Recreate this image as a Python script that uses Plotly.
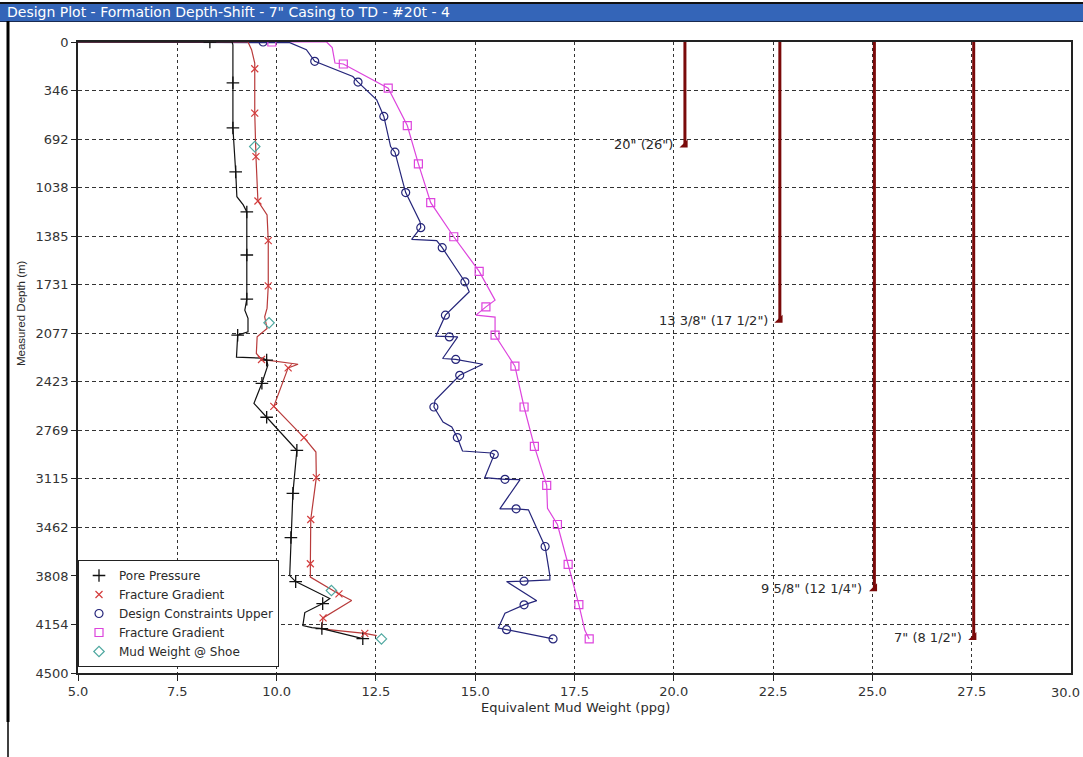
import plotly.graph_objects as go

# ---------------- data (ppg vs measured depth m) ----------------
pore_path_x = [5.0, 8.32, 8.88, 8.90, 8.90, 8.90, 8.97, 9.00, 9.16, 9.25, 9.25, 9.25, 9.20, 9.28, 9.28,
               9.02, 8.99, 9.65, 9.75, 9.78, 9.63, 9.43, 9.75, 10.38, 10.51, 10.41, 10.36, 10.33, 10.48,
               11.34, 11.16, 10.71, 10.66, 10.89, 11.14, 12.17]
pore_path_d = [0, 0, 0, 20, 291, 613, 926, 1103, 1162, 1212, 1519, 1834, 1912, 1971, 2067,
               2091, 2248, 2255, 2269, 2305, 2434, 2577, 2676, 2876, 2912, 3219, 3534, 3805, 3848,
               3969, 4005, 4069, 4162, 4176, 4183, 4255]
pore_mk_x = [8.32, 8.90, 8.90, 8.97, 9.25, 9.25, 9.25, 9.02, 9.75, 9.63, 9.75, 10.51, 10.41, 10.36,
             10.48, 11.16, 11.14, 12.17]
pore_mk_d = [0, 291, 613, 926, 1212, 1519, 1834, 2091, 2269, 2434, 2676, 2912, 3219, 3534,
             3848, 4005, 4183, 4255]

frac_path_x = [5.0, 9.28, 9.37, 9.45, 9.45, 9.45, 9.48, 9.53, 9.76, 9.79, 9.79, 9.76, 9.70, 9.76,
               9.51, 9.49, 9.62, 10.08, 10.54, 10.29, 9.99, 9.93, 10.69, 10.99, 11.00, 10.86, 10.85,
               10.85, 11.57, 11.89, 11.17, 11.13, 12.22, 12.52]
frac_path_d = [0, 0, 55, 150, 191, 507, 817, 1134, 1234, 1417, 1739, 1898, 1960, 2043,
               2103, 2221, 2264, 2281, 2298, 2324, 2543, 2598, 2821, 2924, 3107, 3405, 3721,
               3816, 3936, 3983, 4107, 4186, 4217, 4234]
frac_mk_x = [9.45, 9.45, 9.48, 9.53, 9.79, 9.79, 9.62, 10.29, 9.93, 10.69, 11.00, 10.86, 10.85,
             11.57, 11.17, 12.22]
frac_mk_d = [191, 507, 817, 1134, 1417, 1739, 2264, 2324, 2598, 2821, 3107, 3405, 3721,
             3936, 4107, 4217]

dcu_path_x = [5.0, 9.66, 10.33, 10.75, 10.96, 11.92, 12.05, 12.52, 12.70, 12.87, 12.98, 13.15, 13.25,
              13.61, 13.63, 13.40, 14.03, 14.17, 14.66, 14.74, 14.85, 14.25, 14.01, 14.35, 14.56,
              14.18, 14.51, 15.19, 14.61, 13.99, 13.96, 14.19, 14.41, 14.55, 14.68, 15.41, 15.48,
              15.24, 15.75, 16.13, 15.62, 16.03, 16.34, 16.67, 16.76, 16.88, 16.88, 16.23, 15.79,
              16.55, 16.23, 15.75, 15.58, 15.79, 16.96]
dcu_path_d = [0, 0, 5, 55, 138, 246, 286, 412, 531, 746, 786, 969, 1074,
              1281, 1324, 1407, 1417, 1467, 1674, 1710, 1781, 1948, 2098, 2103, 2103,
              2257, 2264, 2298, 2377, 2555, 2603, 2710, 2746, 2821, 2917, 2931, 2941,
              3107, 3119, 3121, 3329, 3329, 3336, 3543, 3598, 3805, 3836, 3845, 3848,
              3984, 4014, 4074, 4179, 4191, 4257]
dcu_mk_x = [9.66, 10.96, 12.05, 12.70, 12.98, 13.25, 13.63, 14.17, 14.74, 14.25, 14.35, 14.51,
            14.61, 13.96, 14.55, 15.48, 15.75, 16.03, 16.76, 16.23, 16.23, 15.79, 16.96]
dcu_mk_d = [0, 138, 286, 531, 786, 1074, 1324, 1467, 1710, 1948, 2103, 2264,
            2377, 2603, 2821, 2941, 3119, 3329, 3598, 3845, 4014, 4191, 4257]

fg_path_x = [5.0, 9.88, 11.26, 11.40, 11.47, 11.68, 12.81, 13.29, 13.57, 13.88, 14.46, 15.10, 15.50,
             15.27, 15.02, 15.50, 15.50, 16.00, 16.23, 16.49, 16.80, 16.82, 17.07, 17.34, 17.61,
             17.76, 17.87]
fg_path_d = [0, 0, 0, 40, 150, 157, 329, 596, 869, 1146, 1389, 1636, 1841,
             1889, 1948, 1962, 2091, 2312, 2603, 2884, 3162, 3326, 3441, 3726, 4012,
             4196, 4257]
fg_mk_x = [9.88, 11.68, 12.81, 13.29, 13.57, 13.88, 14.46, 15.10, 15.27, 15.50, 16.00, 16.23,
           16.49, 16.80, 17.07, 17.34, 17.61, 17.87]
fg_mk_d = [0, 157, 329, 596, 869, 1146, 1389, 1636, 1889, 2091, 2312, 2603,
           2884, 3162, 3441, 3726, 4012, 4257]

mw_x = [9.45, 9.81, 11.38, 12.64]
mw_d = [746, 2003, 3912, 4257]

casing_labels = ['20" (26")', '13 3/8" (17 1/2")', '9 5/8" (12 1/4")', '7" (8 1/2")']
casing_x = [20.28, 22.67, 25.05, 27.55]
casing_d = [733, 1983, 3898, 4246]

x_ticks = [5.0, 7.5, 10.0, 12.5, 15.0, 17.5, 20.0, 22.5, 25.0, 27.5]
x_last_tick = 30.0
y_ticks = [0, 346, 692, 1038, 1385, 1731, 2077, 2423, 2769, 3115, 3462, 3808, 4154, 4500]

TITLE = 'Design Plot - Formation Depth-Shift - 7" Casing to TD - #20t - 4'

# ---------------- layout geometry ----------------
W, H = 1083, 757
L, R, T, B = 78, 12, 42, 84
PW, PH = W - L - R, H - T - B


def px(xp):
    return (xp - L) / PW


def py(yp):
    return 1 - (yp - T) / PH


FONT = "DejaVu Sans"
TXT = "#2a2a2a"
fig = go.Figure()

# lines (no legend)
line_specs = [
    (fg_path_x, fg_path_d, "#dd44dd"),
    (dcu_path_x, dcu_path_d, "#25257a"),
    (frac_path_x, frac_path_d, "#b83a3a"),
    (pore_path_x, pore_path_d, "#111111"),
]
for xs, ds, col in line_specs:
    fig.add_trace(go.Scatter(x=xs, y=ds, mode="lines", line=dict(color=col, width=1.2),
                             showlegend=False, hoverinfo="skip"))

# casing strings
for cx, cd in zip(casing_x, casing_d):
    fig.add_trace(go.Scatter(x=[cx, cx], y=[0, cd], mode="lines",
                             line=dict(color="#7a0a0a", width=3), showlegend=False))
fig.add_trace(go.Scatter(x=casing_x, y=casing_d, mode="markers",
                         marker=dict(symbol="triangle-se", size=9, color="#7a0a0a"),
                         showlegend=False))
for lab, cx, cd in zip(casing_labels, casing_x, casing_d):
    fig.add_annotation(x=cx, y=cd, text=lab, showarrow=False, xanchor="right",
                       yanchor="middle", xshift=-10, font=dict(family=FONT, size=13, color=TXT))

# markers (legend)
fig.add_trace(go.Scatter(x=pore_mk_x, y=pore_mk_d, mode="markers", name="Pore Pressure",
                         marker=dict(symbol="cross-thin", size=9, line=dict(color="#111", width=1.3))))
fig.add_trace(go.Scatter(x=frac_mk_x, y=frac_mk_d, mode="markers", name="Fracture Gradient",
                         marker=dict(symbol="x-thin", size=7, line=dict(color="#d43c3c", width=1.2))))
fig.add_trace(go.Scatter(x=dcu_mk_x, y=dcu_mk_d, mode="markers", name="Design Constraints Upper",
                         marker=dict(symbol="circle-open", size=8, color="#25257a",
                                     line=dict(width=1.2))))
fig.add_trace(go.Scatter(x=fg_mk_x, y=fg_mk_d, mode="markers", name="Fracture Gradient",
                         marker=dict(symbol="square-open", size=8, color="#dd44dd",
                                     line=dict(width=1.2))))
fig.add_trace(go.Scatter(x=mw_x, y=mw_d, mode="markers", name="Mud Weight @ Shoe",
                         marker=dict(symbol="diamond-open", size=8, color="#4fa8a0",
                                     line=dict(width=1.2))))

# window decorations: title bar, left border
shapes = [
    dict(type="rect", xref="paper", yref="paper", x0=px(0), x1=px(W), y0=py(21), y1=py(3),
         fillcolor="#3465b8", line=dict(width=0), layer="above"),
    dict(type="line", xref="paper", yref="paper", x0=px(0), x1=px(W), y0=py(3), y1=py(3),
         line=dict(color="#111", width=2)),
    dict(type="line", xref="paper", yref="paper", x0=px(0), x1=px(W), y0=py(21.5), y1=py(21.5),
         line=dict(color="#1a2a50", width=1)),
    dict(type="line", xref="paper", yref="paper", x0=px(8), x1=px(8), y0=py(21), y1=py(722),
         line=dict(color="#000", width=3)),
    dict(type="line", xref="paper", yref="paper", x0=px(8), x1=px(8), y0=py(722), y1=py(757),
         line=dict(color="#000", width=1.5)),
]
fig.update_layout(shapes=shapes)

fig.add_annotation(xref="paper", yref="paper", x=px(5), y=py(12.5), text=TITLE, showarrow=False,
                   xanchor="left", yanchor="middle", font=dict(family=FONT, size=14, color="white"))
fig.add_annotation(xref="paper", yref="paper", x=px(575), y=py(707),
                   text="Equivalent Mud Weight (ppg)", showarrow=False, xanchor="center",
                   yanchor="middle", font=dict(family=FONT, size=13, color=TXT))
fig.add_annotation(xref="paper", yref="paper", x=px(21), y=py(313), text="Measured Depth (m)",
                   showarrow=False, textangle=-90, xanchor="center", yanchor="middle",
                   font=dict(family="Liberation Sans", size=11.5, color=TXT))
# last x tick label sits on the window edge in the reference; keep it fully inside
fig.add_annotation(xref="paper", x=px(1082), yref="paper", y=0, yshift=-19,
                   text=f"{x_last_tick:.1f}", showarrow=False, xanchor="right", yanchor="middle",
                   font=dict(family=FONT, size=13, color="#333"))

fig.update_xaxes(range=[5, 30], tickvals=x_ticks, tickformat=".1f", showgrid=True,
                 gridcolor="#333", griddash="3px,3px", gridwidth=1, zeroline=False,
                 showline=True, linecolor="#222", linewidth=1.5, mirror=True,
                 ticks="outside", ticklen=6, tickcolor="#222",
                 tickfont=dict(family=FONT, size=13, color="#333"))
fig.update_yaxes(range=[4500, 0], tickvals=y_ticks, showgrid=True, gridcolor="#333",
                 griddash="4px,3px", gridwidth=1, zeroline=False,
                 showline=True, linecolor="#222", linewidth=1.5, mirror=True,
                 ticks="outside", ticklen=5, tickcolor="#222",
                 tickfont=dict(family=FONT, size=13, color="#333"))

fig.update_layout(
    width=W, height=H, margin=dict(l=L, r=R, t=T, b=B, autoexpand=False),
    paper_bgcolor="white", plot_bgcolor="white",
    font=dict(family=FONT, size=13, color=TXT),
    legend=dict(x=0, y=py(667), xanchor="left", yanchor="bottom", bgcolor="white",
                bordercolor="#222", borderwidth=1, font=dict(family=FONT, size=12, color=TXT),
                tracegroupgap=0, itemwidth=30),
)

fig.write_html("out.html", config={"displayModeBar": False},
               post_script="document.body.style.margin='0';document.body.style.overflow='hidden';")
